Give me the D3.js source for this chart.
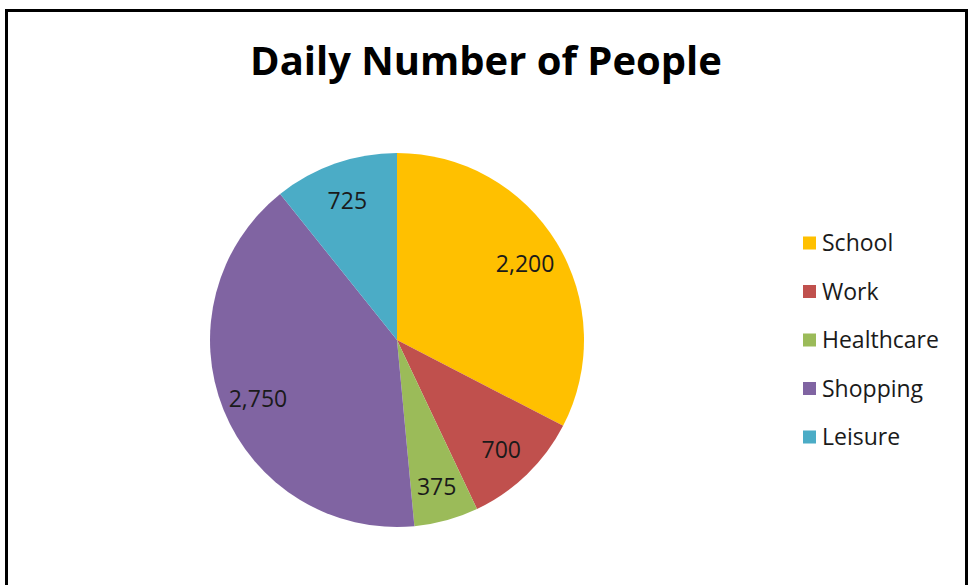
<!DOCTYPE html>
<html>
<head>
<meta charset="utf-8">
<script src="https://cdn.jsdelivr.net/npm/d3@7"></script>
<style>
  html, body { margin: 0; padding: 0; background: #fff; }
  svg { display: block; }
  text { font-family: "Open Sans", Lato, sans-serif; }
</style>
</head>
<body>
<svg id="chart" width="968" height="585"></svg>
<script>
// Daily visitor counts by destination type
const categories = ["School", "Work", "Healthcare", "Shopping", "Leisure"];
const values = [2200, 700, 375, 2750, 725];
const colors = ["#FFC000", "#C0504D", "#9BBB59", "#8064A2", "#4BACC6"];
const title = "Daily Number of People";

const svg = d3.select("#chart");

// frame
svg.append("rect")
  .attr("x", 6.5).attr("y", 10.5)
  .attr("width", 960).attr("height", 600)
  .attr("fill", "#fff")
  .attr("stroke", "#000").attr("stroke-width", 3);

// title, sized to span its box
const titleText = svg.append("text")
  .attr("x", 486).attr("y", 75)
  .attr("text-anchor", "middle")
  .attr("font-size", 39)
  .attr("font-weight", 700)
  .attr("fill", "#000")
  .text(title);
const tw = titleText.node().getComputedTextLength();
titleText.attr("font-size", 39 * 472 / tw);

const cx = 397, cy = 340, R = 187;
const data = categories.map((c, i) => ({ name: c, value: values[i], color: colors[i] }));

const pie = d3.pie().value(d => d.value).sort(null);
const arcs = pie(data);
const arc = d3.arc().innerRadius(0).outerRadius(R);
const labelArc = d3.arc().innerRadius(150).outerRadius(150);

const g = svg.append("g").attr("transform", `translate(${cx},${cy})`);
g.selectAll("path.slice")
  .data(arcs)
  .join("path")
  .attr("class", "slice")
  .attr("d", arc)
  .attr("fill", d => d.data.color);

const fmt = d3.format(",");
g.selectAll("text.lbl")
  .data(arcs)
  .join("text")
  .attr("class", "lbl")
  .attr("transform", d => `translate(${labelArc.centroid(d)})`)
  .attr("text-anchor", "middle")
  .attr("dy", "0.45em")
  .attr("font-size", 23)
  .attr("fill", "#1a1a1a")
  .text(d => fmt(d.data.value));

// legend
const legend = svg.append("g").attr("transform", "translate(803,243)");
const rows = legend.selectAll("g")
  .data(data)
  .join("g")
  .attr("transform", (d, i) => `translate(0,${i * 48.5})`);
rows.append("rect")
  .attr("x", 0).attr("y", -6.5)
  .attr("width", 13).attr("height", 13)
  .attr("fill", d => d.color);
rows.append("text")
  .attr("x", 19).attr("y", 0)
  .attr("dy", "0.35em")
  .attr("font-size", 23)
  .attr("fill", "#1a1a1a")
  .text(d => d.name);
</script>
</body>
</html>
